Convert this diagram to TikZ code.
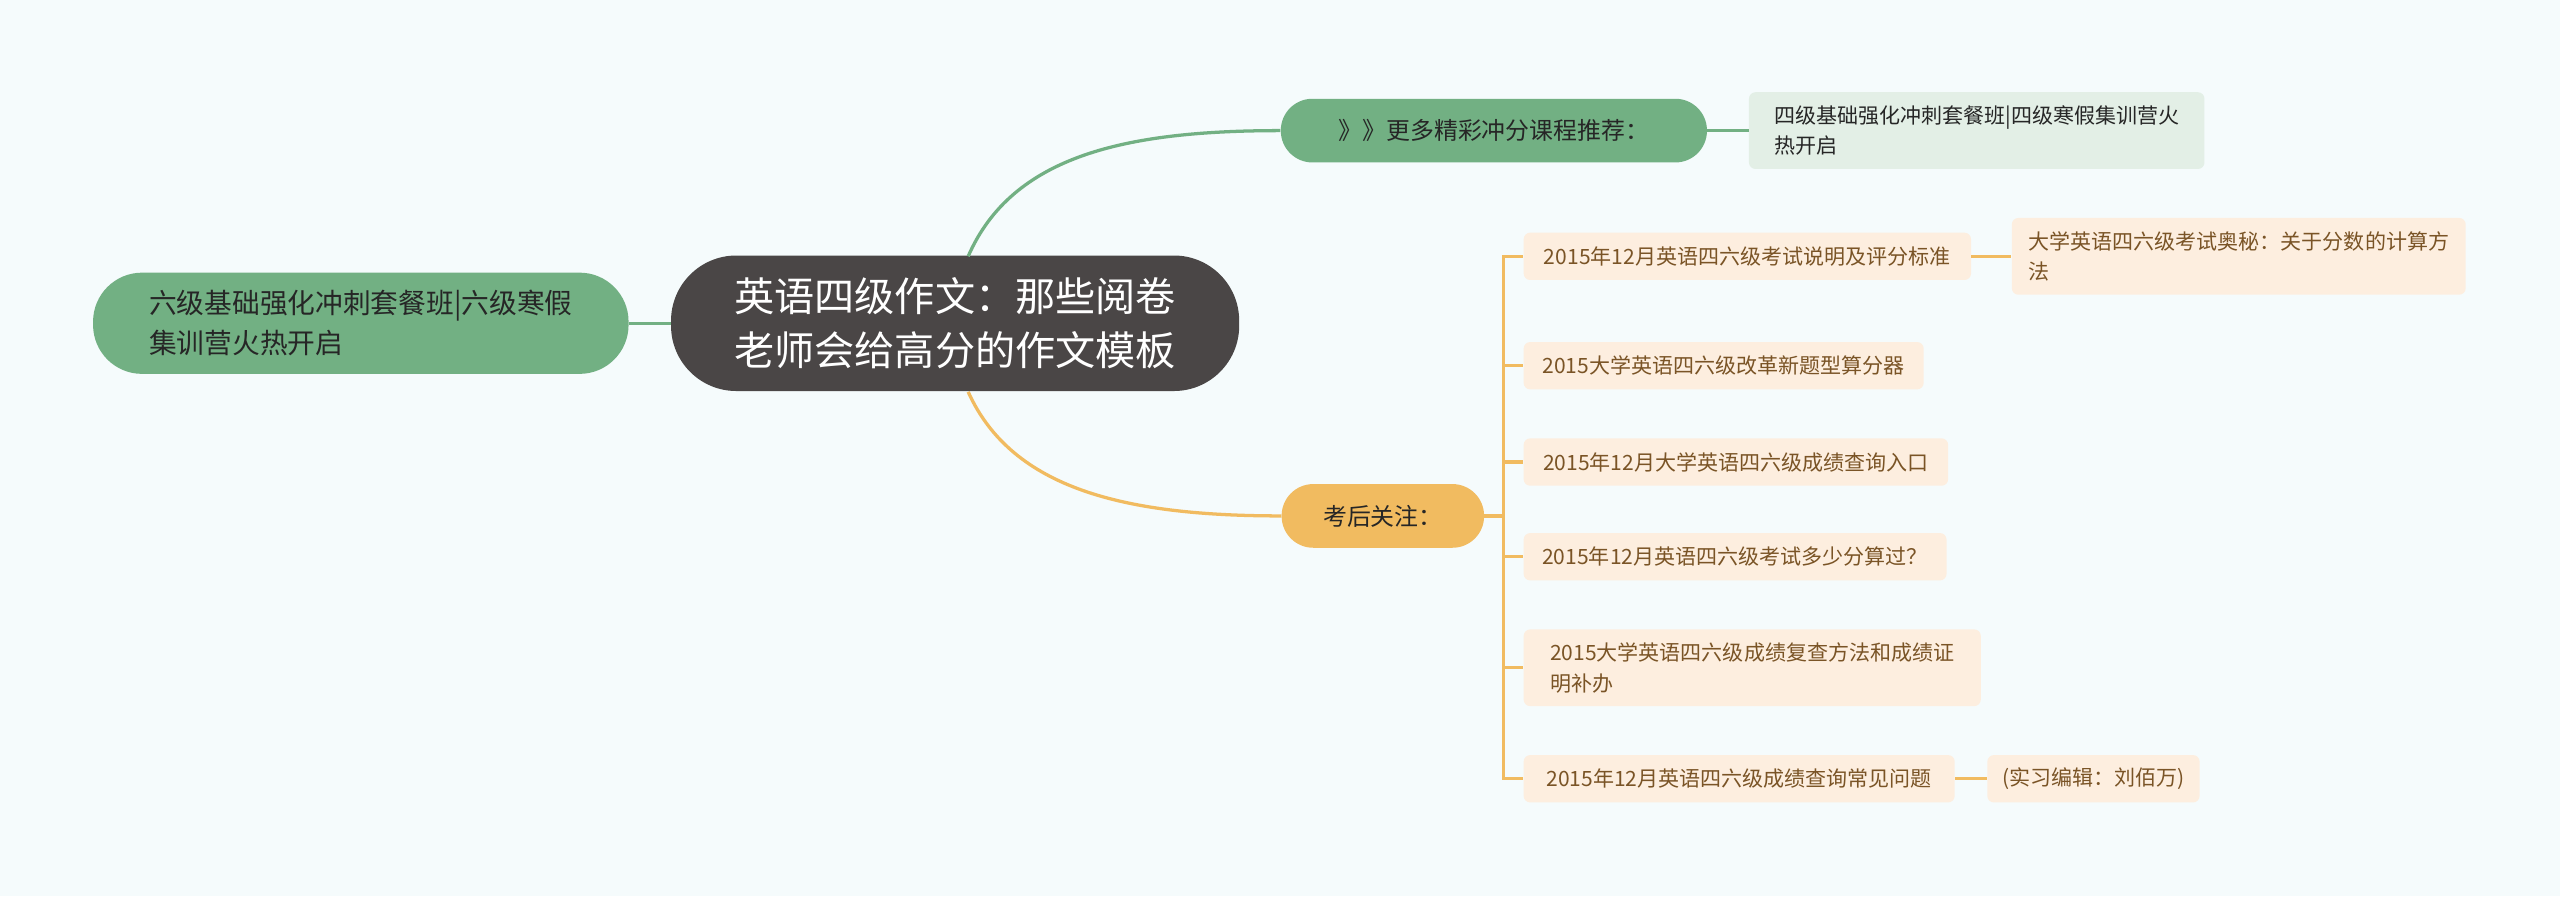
\documentclass[tikz,border=0pt]{standalone}
\usepackage{fontspec}
\setmainfont{Noto Sans CJK SC}
\definecolor{bgcol}{HTML}{F5FBFC}
\definecolor{rootcol}{HTML}{4A4646}
\definecolor{greencol}{HTML}{72B083}
\definecolor{greenlight}{HTML}{E3EFE6}
\definecolor{orangecol}{HTML}{F1BB60}
\definecolor{orangelight}{HTML}{FDEEDF}
\definecolor{browntext}{HTML}{7A5426}
\tikzset{
  root/.style={fill=rootcol, text=white, rounded corners=12mm, font=\fontsize{21}{28}\selectfont,
    minimum width=104.4mm, minimum height=24.9mm, align=center},
  branch/.style={rounded corners=5.8mm, minimum height=11.7mm, font=\fontsize{12.5}{16}\selectfont},
  leaf/.style={fill=orangelight, text=browntext, rounded corners=1.2mm, minimum height=8.7mm,
    anchor=west, inner xsep=2mm, font=\fontsize{11}{16}\selectfont, align=left},
  gline/.style={draw=greencol, line width=0.6mm},
  oline/.style={draw=orangecol, line width=0.6mm}
}
\begin{document}
\begin{tikzpicture}[x=0.3mm, y=-0.3mm]
  \fill[bgcol] (0,0) rectangle (1568,549);
  \useasboundingbox (0,0) rectangle (1568,549);

  % centre
  \node[root] (root) at (585,198) {英语四级作文：那些阅卷\\老师会给高分的作文模板};

  % left
  \node[fill=greencol, text=black!85, rounded corners=9mm, minimum width=98.4mm, minimum height=18.6mm,
    font=\fontsize{14.5}{21}\selectfont, align=left] (left) at (221,198) {六级基础强化冲刺套餐班|六级寒假\\集训营火热开启};
  \draw[gline] (left.east) -- (root.west);

  % top branch
  \node[branch, fill=greencol, text=black!85, minimum width=78.3mm] (more) at (915,80) {》》更多精彩冲分课程推荐：};
  \node[leaf, fill=greenlight, text=black!85, minimum width=83.7mm, minimum height=14.1mm] (moreleaf) at (1071,80)
    {四级基础强化冲刺套餐班|四级寒假集训营火\\热开启};
  \draw[gline] (593,157) .. controls (620,95) and (690,80) .. (more.west);
  \draw[gline] (more.east) -- (moreleaf.west);

  % bottom branch
  \node[branch, fill=orangecol, text=black!85, minimum width=37.2mm] (after) at (847,316) {考后关注：};
  \draw[oline] (593,240) .. controls (620,300) and (690,316) .. (after.west);

  \node[leaf, minimum width=82.2mm] (a1) at (933,157) {2015年12月英语四六级考试说明及评分标准};
  \node[leaf, minimum width=83.4mm, minimum height=14.1mm] (a1x) at (1232,157) {大学英语四六级考试奥秘：关于分数的计算方\\法};
  \node[leaf, minimum width=73.5mm] (a2) at (933,224) {2015大学英语四六级改革新题型算分器};
  \node[leaf, minimum width=78mm] (a3) at (933,283) {2015年12月大学英语四六级成绩查询入口};
  \node[leaf, minimum width=77.7mm] (a4) at (933,341) {2015年12月英语四六级考试多少分算过？};
  \node[leaf, minimum width=84mm, minimum height=14.1mm] (a5) at (933,409) {2015大学英语四六级成绩复查方法和成绩证\\明补办};
  \node[leaf, minimum width=79.2mm] (a6) at (933,477) {2015年12月英语四六级成绩查询常见问题};
  \node[leaf, minimum width=39mm] (a6x) at (1217,477) {(实习编辑：刘佰万)};

  \foreach \n in {a1,a2,a3,a4,a5,a6}
    \draw[oline] (after.east) .. controls (921,316) and (921,316) .. (921,316)
      |- ([xshift=-12*0.3mm]\n.west) -- (\n.west);
  \draw[oline] (a1.east) -- (a1x.west);
  \draw[oline] (a6.east) -- (a6x.west);
\end{tikzpicture}
\end{document}
